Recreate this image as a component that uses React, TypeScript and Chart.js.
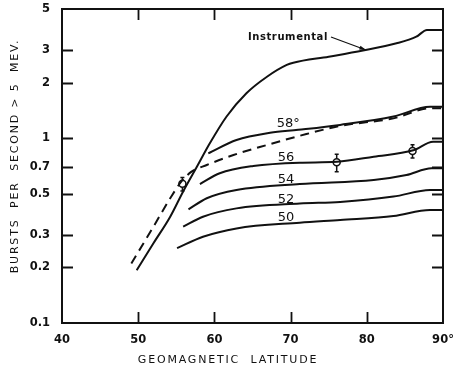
import React, { useEffect, useRef } from "react";
import { Chart, registerables } from "chart.js";

Chart.register(...registerables);

// Axis ticks
const yTickValues = [0.1, 0.2, 0.3, 0.5, 0.7, 1, 2, 3, 5];
const xTickValues = [40, 50, 60, 70, 80, 90];

// Curves (geomagnetic latitude vs bursts per second)
const instrumentalLat = [49.8, 52.0, 54.2, 55.9, 57.7, 59.4, 61.6, 64.2, 66.9, 69.5, 70.35, 75.0, 79.5, 83.9, 86.5, 87.9, 90];
const instrumentalVal = [0.193, 0.27, 0.376, 0.515, 0.70, 0.938, 1.31, 1.75, 2.15, 2.49, 2.56, 2.76, 2.98, 3.26, 3.54, 3.85, 3.85];

const dashedLat = [49.1, 52.0, 54.2, 55.7, 57.0, 59.0, 62.5, 66.9, 71.2, 76.5, 83.5, 88.3, 90];
const dashedVal = [0.21, 0.332, 0.473, 0.585, 0.659, 0.716, 0.811, 0.919, 1.03, 1.165, 1.28, 1.45, 1.45];

const c58Lat = [59.2, 62.9, 67.3, 71.0, 76.5, 83.5, 88.3, 90];
const c58Val = [0.828, 0.978, 1.07, 1.11, 1.18, 1.31, 1.48, 1.48];

const c56Lat = [58.1, 60.7, 65.1, 71.2, 76.1, 80.9, 86.1, 88.7, 90];
const c56Val = [0.565, 0.646, 0.707, 0.737, 0.745, 0.794, 0.86, 0.957, 0.957];

const c54Lat = [56.6, 59.0, 62.9, 71.2, 80.9, 85.2, 88.5, 90];
const c54Val = [0.412, 0.473, 0.524, 0.565, 0.594, 0.632, 0.687, 0.687];

const c52Lat = [55.9, 58.5, 62.9, 71.2, 76.5, 83.5, 88.3, 90];
const c52Val = [0.332, 0.376, 0.417, 0.443, 0.452, 0.483, 0.524, 0.524];

const c50Lat = [55.1, 58.5, 62.9, 71.2, 76.5, 83.5, 88.3, 90];
const c50Val = [0.254, 0.293, 0.325, 0.349, 0.361, 0.379, 0.409, 0.409];

// Measured points with error bars
const obsLat = [55.8, 76.05, 86.0];
const obsVal = [0.567, 0.74, 0.852];
const obsLow = [0.518, 0.659, 0.78];
const obsHigh = [0.612, 0.818, 0.92];

// Curve labels (text, latitude, value)
const curveLabelText = ["58°", "56", "54", "52", "50"];
const curveLabelLat = [69.7, 69.4, 69.4, 69.4, 69.4];
const curveLabelVal = [1.2, 0.78, 0.6, 0.465, 0.372];

const INK = "#111";

export default function App() {
  const ref = useRef<HTMLCanvasElement>(null);

  useEffect(() => {
    document.body.style.margin = "0";
    const canvas = ref.current!;
    const mk = (lat: number[], val: number[], dash: number[] = []) => ({
      type: "line" as const,
      data: lat.map((x, i) => ({ x, y: val[i] })),
      borderColor: INK,
      borderWidth: 2,
      borderDash: dash,
      pointRadius: 0,
      cubicInterpolationMode: "monotone" as const,
      fill: false,
    });

    const annot = {
      id: "annot",
      beforeDatasetsDraw(chart: any) {
        const { ctx, scales } = chart;
        const x = scales.x, y = scales.y;
        ctx.save();
        ctx.strokeStyle = INK;
        ctx.lineWidth = 1.5;
        obsLat.forEach((lat, i) => {
          const px = x.getPixelForValue(lat);
          const p1 = y.getPixelForValue(obsLow[i]);
          const p2 = y.getPixelForValue(obsHigh[i]);
          ctx.beginPath();
          ctx.moveTo(px, p1); ctx.lineTo(px, p2);
          ctx.moveTo(px - 2, p1); ctx.lineTo(px + 2, p1);
          ctx.moveTo(px - 2, p2); ctx.lineTo(px + 2, p2);
          ctx.stroke();
        });
        ctx.restore();
      },
      afterDraw(chart: any) {
        const { ctx, chartArea: a, scales } = chart;
        const x = scales.x, y = scales.y;
        ctx.save();
        ctx.strokeStyle = INK;
        ctx.fillStyle = INK;
        ctx.lineWidth = 2;
        ctx.strokeRect(a.left, a.top, a.right - a.left, a.bottom - a.top);
        ctx.lineWidth = 1.8;
        const tl = 11;
        ctx.beginPath();
        yTickValues.forEach((v) => {
          if (v === 0.1 || v === 5) return;
          const py = Math.round(y.getPixelForValue(v)) + 0.5;
          ctx.moveTo(a.left, py); ctx.lineTo(a.left + tl, py);
          ctx.moveTo(a.right - tl, py); ctx.lineTo(a.right, py);
        });
        xTickValues.forEach((v) => {
          if (v === 40 || v === 90) return;
          const px = Math.round(x.getPixelForValue(v)) + 0.5;
          ctx.moveTo(px, a.bottom); ctx.lineTo(px, a.bottom - tl);
          ctx.moveTo(px, a.top); ctx.lineTo(px, a.top + tl);
        });
        ctx.stroke();

        // curve labels
        ctx.font = "13px 'DejaVu Sans'";
        ctx.textAlign = "center";
        ctx.textBaseline = "middle";
        curveLabelText.forEach((t, i) => {
          ctx.fillText(t, x.getPixelForValue(curveLabelLat[i]), y.getPixelForValue(curveLabelVal[i]));
        });

        // Instrumental label + arrow
        ctx.font = "bold 10px 'DejaVu Sans'";
        (ctx as any).letterSpacing = "0.6px";
        ctx.textAlign = "right";
        const sx = x.getPixelForValue(75.3), sy = y.getPixelForValue(3.53);
        const ex = x.getPixelForValue(79.9), ey = y.getPixelForValue(3.0);
        ctx.fillText("Instrumental", sx - 3, sy);
        (ctx as any).letterSpacing = "0px";
        ctx.lineWidth = 1.2;
        ctx.beginPath();
        ctx.moveTo(sx, sy); ctx.lineTo(ex, ey);
        ctx.stroke();
        const ang = Math.atan2(ey - sy, ex - sx);
        ctx.beginPath();
        ctx.moveTo(ex, ey);
        ctx.lineTo(ex - 7 * Math.cos(ang - 0.3), ey - 7 * Math.sin(ang - 0.3));
        ctx.lineTo(ex - 7 * Math.cos(ang + 0.3), ey - 7 * Math.sin(ang + 0.3));
        ctx.closePath();
        ctx.fill();

        // axis titles
        ctx.font = "11px 'DejaVu Sans'";
        (ctx as any).letterSpacing = "1.8px";
        ctx.textAlign = "center";
        ctx.fillText("GEOMAGNETIC  LATITUDE", 228, 360);
        ctx.save();
        ctx.translate(15, 156);
        ctx.rotate(-Math.PI / 2);
        ctx.fillText("BURSTS  PER  SECOND > 5  MEV.", 0, 0);
        ctx.restore();
        (ctx as any).letterSpacing = "0px";
        ctx.restore();
      },
    };

    const noPad = (s: any) => {
      s.paddingTop = 0;
      s.paddingBottom = 0;
      s.paddingLeft = 0;
      s.paddingRight = 0;
    };

    const chart = new Chart(canvas, {
      type: "line",
      data: {
        datasets: [
          mk(instrumentalLat, instrumentalVal),
          mk(dashedLat, dashedVal, [9, 6]),
          mk(c58Lat, c58Val),
          mk(c56Lat, c56Val),
          mk(c54Lat, c54Val),
          mk(c52Lat, c52Val),
          mk(c50Lat, c50Val),
          {
            type: "line" as const,
            data: obsLat.map((x, i) => ({ x, y: obsVal[i] })),
            showLine: false,
            pointRadius: 3.5,
            pointBackgroundColor: "#fff",
            pointBorderColor: INK,
            pointBorderWidth: 1.5,
          },
        ] as any,
      },
      options: {
        responsive: false,
        devicePixelRatio: 1,
        animation: false,
        layout: { padding: { top: 9, right: 13, left: 0, bottom: 0 } },
        plugins: { legend: { display: false }, tooltip: { enabled: false }, title: { display: false } },
        scales: {
          x: {
            type: "linear",
            min: 40,
            max: 90,
            grid: { display: false, drawTicks: false },
            border: { display: false },
            afterBuildTicks: (s: any) => { s.ticks = xTickValues.map((v) => ({ value: v })); },
            afterFit: (s: any) => { s.height = 47; noPad(s); },
            ticks: {
              padding: 10,
              color: INK,
              maxRotation: 0,
              autoSkip: false,
              font: { family: "'DejaVu Sans'", size: 11.5, weight: "bold" },
              callback: (v: any) => (v === 90 ? "90°" : String(v)),
            },
          },
          y: {
            type: "logarithmic",
            min: 0.1,
            max: 5,
            grid: { display: false, drawTicks: false },
            border: { display: false },
            afterBuildTicks: (s: any) => { s.ticks = yTickValues.map((v) => ({ value: v })); },
            afterFit: (s: any) => { s.width = 62; noPad(s); },
            ticks: {
              padding: 12,
              color: INK,
              autoSkip: false,
              font: { family: "'DejaVu Sans'", size: 11.5, weight: "bold" },
              callback: (v: any) => String(v),
            },
          },
        },
      } as any,
      plugins: [annot],
    });
    return () => chart.destroy();
  }, []);

  return <canvas ref={ref} width={456} height={370} style={{ display: "block", width: 456, height: 370 }} />;
}
